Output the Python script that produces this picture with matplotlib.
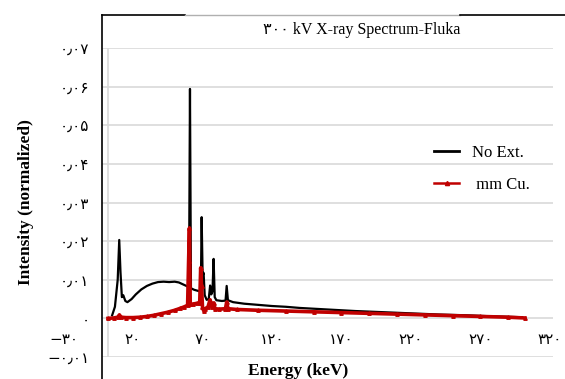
import matplotlib
matplotlib.use("Agg")
import matplotlib.pyplot as plt
from matplotlib.lines import Line2D

# Spectrum without filter (No Ext.) - energy in keV, normalized intensity
black_energy = [5, 7, 9, 10.1, 11, 12, 13, 14.5, 16, 19, 22, 26, 30, 34, 38, 42, 46, 50,
                53, 56, 59, 60.3, 61, 61.7, 64, 67, 68.8, 69.4, 70.1, 70.8, 71.6, 73,
                74.5, 75.5, 76.3, 77.2, 78, 78.8, 80, 84, 86.6, 87.4, 88.3, 92, 100,
                110, 120, 130, 140, 150, 165, 180, 200, 220, 240, 260, 280, 300]
black_intensity = [0.0008, 0.003, 0.010, 0.0203, 0.012, 0.0055, 0.0060, 0.0045, 0.0042,
                   0.0050, 0.0062, 0.0075, 0.0084, 0.0090, 0.0094, 0.0095, 0.0094, 0.0095,
                   0.0093, 0.0088, 0.0083, 0.0080, 0.0594, 0.0078, 0.0074, 0.0071, 0.0070,
                   0.0262, 0.0110, 0.0118, 0.0060, 0.0048, 0.0050, 0.0085, 0.0062, 0.0070,
                   0.0154, 0.0055, 0.0047, 0.0045, 0.0046, 0.0084, 0.0047, 0.0042, 0.0038,
                   0.0035, 0.0032, 0.0030, 0.0027, 0.0025, 0.0022, 0.0019, 0.0016, 0.0013,
                   0.0010, 0.0008, 0.0005, 0.0003]

# Spectrum with Cu filter (mm Cu.)
red_energy = [2, 6, 9, 10.2, 11.5, 15, 20, 25, 30, 35, 40, 45, 50, 54, 57, 59.3, 60, 60.6,
              61.2, 63, 66, 68, 68.7, 69.3, 70, 70.8, 72, 74, 75.4, 76.5, 78, 79, 82, 86.5,
              87.4, 88.4, 95, 110, 130, 150, 170, 190, 210, 230, 250, 270, 290, 302]
red_intensity = [0.0000, 0.0001, 0.0003, 0.0009, 0.0003, 0.0002, 0.0002, 0.0003, 0.0005,
                 0.0008, 0.0012, 0.0016, 0.0021, 0.0026, 0.0030, 0.0034, 0.0148, 0.0234,
                 0.0036, 0.0037, 0.0039, 0.0040, 0.0131, 0.0085, 0.0030, 0.0020, 0.0025,
                 0.0030, 0.0048, 0.0030, 0.0040, 0.0025, 0.0024, 0.0025, 0.0042, 0.0025,
                 0.0023, 0.0021, 0.0019, 0.0017, 0.0015, 0.0013, 0.0011, 0.0009, 0.0007,
                 0.0005, 0.0003, 0.0001]

# Axis ticks (Persian digits as in the original)
y_ticks = [-0.01, 0.0, 0.01, 0.02, 0.03, 0.04, 0.05, 0.06, 0.07]
y_tick_labels = ["−۰٫۰۱", "۰", "۰٫۰۱", "۰٫۰۲", "۰٫۰۳", "۰٫۰۴", "۰٫۰۵", "۰٫۰۶", "۰٫۰۷"]
x_ticks = [-30, 20, 70, 120, 170, 220, 270, 320]
x_tick_labels = ["−۳۰", "۲۰", "۷۰", "۱۲۰", "۱۷۰", "۲۲۰", "۲۷۰", "۳۲۰"]

W, H = 565, 379
serif = ["Liberation Serif", "DejaVu Sans"]
digits = ["DejaVu Sans"]
RED = "#c00000"

fig = plt.figure(figsize=(W / 100, H / 100), dpi=100)
ax = fig.add_axes([102 / W, 1 - 357 / H, (553 - 102) / W, (357 - 48) / H])

ax.set_xlim(-2.3, 322.2)
ax.set_ylim(-0.01, 0.07)
for s in ax.spines.values():
    s.set_visible(False)

# grid
for y in y_ticks:
    ax.axhline(y, color="#d9d9d9", lw=1.2, zorder=0)
ax.axvline(2.0, color="#d9d9d9", lw=1.2, zorder=0)

ax.plot(black_energy, black_intensity, color="black", lw=1.6, zorder=2)
ax.plot(red_energy, red_intensity, color=RED, lw=2.6, marker="^", ms=2.5, zorder=3)

ax.set_xticks([])
ax.set_yticks(y_ticks)
ax.set_yticklabels(y_tick_labels, family=digits, fontsize=11)
ax.tick_params(axis="y", length=0, pad=9)

for xt, lab in zip(x_ticks, x_tick_labels):
    ax.text(xt, -0.0055, lab, ha="center", va="center", family=digits, fontsize=11,
            clip_on=False)

handles = [Line2D([], [], color="black", lw=2),
           Line2D([], [], color=RED, lw=1.8, marker="^", ms=3)]
leg = ax.legend(handles, ["No Ext.", " mm Cu."], loc="center left",
                bbox_to_anchor=(419 / W, 1 - 169 / H),
                bbox_transform=fig.transFigure, frameon=False,
                prop={"family": serif, "size": 12}, handlelength=1.5,
                handletextpad=0.8, labelspacing=0.95)

# outer frame
fig.add_artist(Line2D([102 / W, 102 / W], [0, 1 - 15 / H], color="black", lw=1.2,
                      transform=fig.transFigure))
fig.add_artist(Line2D([102 / W, 185 / W], [1 - 15 / H, 1 - 15 / H], color="black",
                      lw=1.2, transform=fig.transFigure))
fig.add_artist(Line2D([185 / W, 460 / W], [1 - 15 / H, 1 - 15 / H], color="#b0b0b0",
                      lw=1.0, transform=fig.transFigure))
fig.add_artist(Line2D([460 / W, 1], [1 - 15 / H, 1 - 15 / H], color="black", lw=1.2,
                      transform=fig.transFigure))

fig.text(362 / W, 1 - 30 / H, "۳۰۰ kV X-ray Spectrum-Fluka", ha="center", va="center",
         family=serif, fontsize=11.5)
fig.text(298 / W, 1 - 371 / H, "Energy (keV)", ha="center", va="center",
         family=serif, fontsize=12.5, fontweight="bold")
fig.text(26 / W, 1 - 202 / H, "Intensity (normalized)", ha="center", va="center",
         rotation=90, family=serif, fontsize=12.5, fontweight="bold")

fig.savefig("out.png", dpi=100)
